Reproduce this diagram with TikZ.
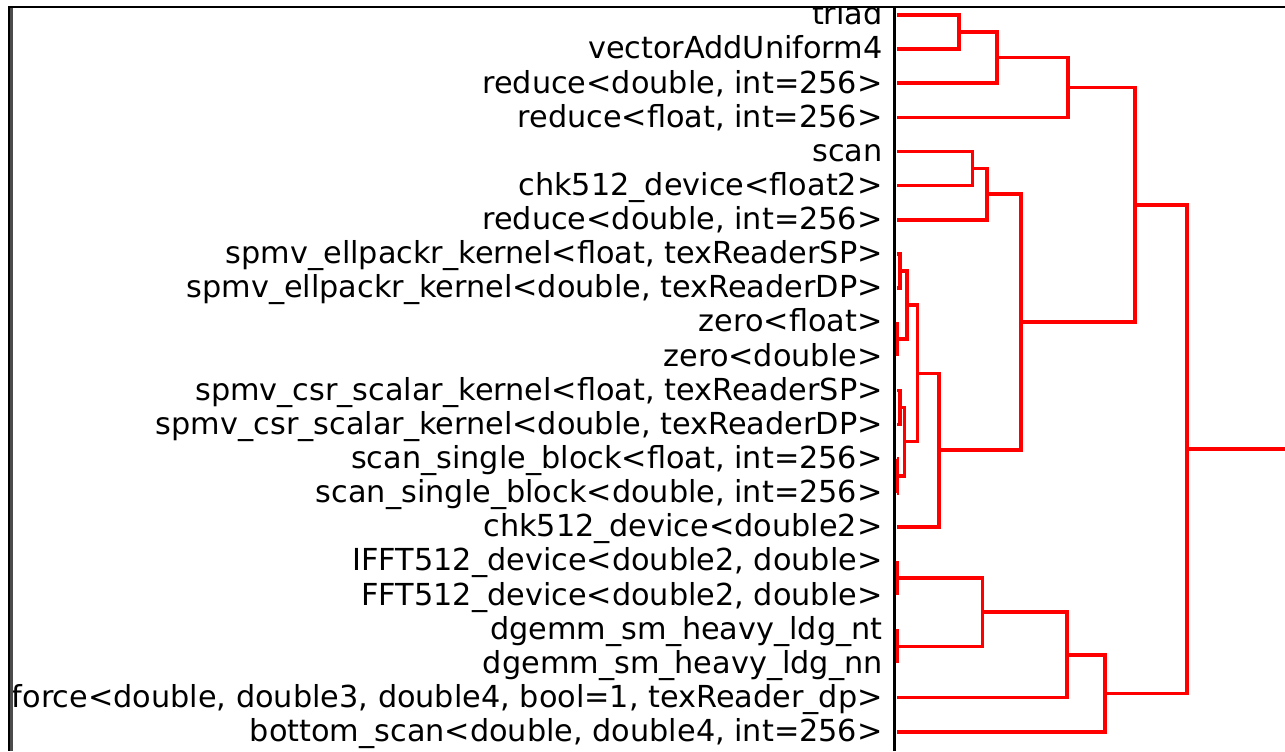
\documentclass[tikz,border=0pt]{standalone}
\usepackage{fontspec}
\setmainfont{DejaVu Sans}
\usetikzlibrary{positioning}
\begin{document}
\begin{tikzpicture}[x=0.5pt, y=-0.5pt]
        \tikzstyle{lbl} = [inner sep=0pt, text height=9.8pt, text depth=0pt, font=\fontsize{15.15}{18}\selectfont]
        \tikzstyle{link} = [red, line width=1.8pt]
        \tikzstyle{frame} = [black, line width=1pt]

        \useasboundingbox (0,0) rectangle (1285,751);
        \begin{scope}
        \clip (10,8) rectangle (1285,751);

        \coordinate (l0) at (897,15);
        \coordinate (l1) at (897,49.13);
        \coordinate (l2) at (897,83.26);
        \coordinate (l3) at (897,117.39);
        \coordinate (l4) at (897,151.52);
        \coordinate (l5) at (897,185.65);
        \coordinate (l6) at (897,219.78);
        \coordinate (l7) at (897,253.91);
        \coordinate (l8) at (897,288.04);
        \coordinate (l9) at (897,322.17);
        \coordinate (l10) at (897,356.3);
        \coordinate (l11) at (897,390.43);
        \coordinate (l12) at (897,424.56);
        \coordinate (l13) at (897,458.69);
        \coordinate (l14) at (897,492.82);
        \coordinate (l15) at (897,526.95);
        \coordinate (l16) at (897,561.08);
        \coordinate (l17) at (897,595.21);
        \coordinate (l18) at (897,629.34);
        \coordinate (l19) at (897,663.47);
        \coordinate (l20) at (897,697.6);
        \coordinate (l21) at (897,731.73);

        \node (t0) [lbl, left=7pt of l0] {triad};
        \node (t1) [lbl, left=7pt of l1] {vectorAddUniform4};
        \node (t2) [lbl, left=7pt of l2] {reduce<double, int=256>};
        \node (t3) [lbl, left=7pt of l3] {reduce<float, int=256>};
        \node (t4) [lbl, left=7pt of l4] {scan};
        \node (t5) [lbl, left=7pt of l5] {chk512\_device<float2>};
        \node (t6) [lbl, left=7pt of l6] {reduce<double, int=256>};
        \node (t7) [lbl, left=7pt of l7] {spmv\_ellpackr\_kernel<float, texReaderSP>};
        \node (t8) [lbl, left=7pt of l8] {spmv\_ellpackr\_kernel<double, texReaderDP>};
        \node (t9) [lbl, left=7pt of l9] {zero<float>};
        \node (t10) [lbl, left=7pt of l10] {zero<double>};
        \node (t11) [lbl, left=7pt of l11] {spmv\_csr\_scalar\_kernel<float, texReaderSP>};
        \node (t12) [lbl, left=7pt of l12] {spmv\_csr\_scalar\_kernel<double, texReaderDP>};
        \node (t13) [lbl, left=7pt of l13] {scan\_single\_block<float, int=256>};
        \node (t14) [lbl, left=7pt of l14] {scan\_single\_block<double, int=256>};
        \node (t15) [lbl, left=7pt of l15] {chk512\_device<double2>};
        \node (t16) [lbl, left=7pt of l16] {IFFT512\_device<double2, double>};
        \node (t17) [lbl, left=7pt of l17] {FFT512\_device<double2, double>};
        \node (t18) [lbl, left=7pt of l18] {dgemm\_sm\_heavy\_ldg\_nt};
        \node (t19) [lbl, left=7pt of l19] {dgemm\_sm\_heavy\_ldg\_nn};
        \node (t20) [lbl, left=7pt of l20] {force<double, double3, double4, bool=1, texReader\_dp>};
        \node (t21) [lbl, left=7pt of l21] {bottom\_scan<double, double4, int=256>};

        \coordinate (m1) at (959,32.07);
        \coordinate (m2) at (996.7,57.66);
        \coordinate (m3) at (1068,87.53);
        \coordinate (m4) at (972.3,168.59);
        \coordinate (m5) at (986.7,194.18);
        \coordinate (m6) at (900,270.98);
        \coordinate (m7) at (897,339.24);
        \coordinate (m8) at (906.7,305.11);
        \coordinate (m9) at (900,407.5);
        \coordinate (m10) at (897.5,475.76);
        \coordinate (m11) at (904.5,441.63);
        \coordinate (m12) at (917.3,373.37);
        \coordinate (m13) at (939,450.16);
        \coordinate (m14) at (1020.7,322.17);
        \coordinate (m15) at (1134.7,204.85);
        \coordinate (m16) at (897,578.15);
        \coordinate (m17) at (897,646.41);
        \coordinate (m18) at (982.3,612.28);
        \coordinate (m19) at (1066.7,654.94);
        \coordinate (m20) at (1105,693.34);
        \coordinate (m21) at (1187,449.1);
        \coordinate (out) at (1300,449.1);

        \draw [link] (l0) -- (l0 -| m1) -- (l1 -| m1) -- (l1);
        \draw [link] (m1) -- (m1 -| m2) -- (l2 -| m2) -- (l2);
        \draw [link] (m2) -- (m2 -| m3) -- (l3 -| m3) -- (l3);
        \draw [link] (l4) -- (l4 -| m4) -- (l5 -| m4) -- (l5);
        \draw [link] (m4) -- (m4 -| m5) -- (l6 -| m5) -- (l6);
        \draw [link] (l7) -- (l7 -| m6) -- (l8 -| m6) -- (l8);
        \draw [link] (l9) -- (l9 -| m7) -- (l10 -| m7) -- (l10);
        \draw [link] (m6) -- (m6 -| m8) -- (m7 -| m8) -- (m7);
        \draw [link] (l11) -- (l11 -| m9) -- (l12 -| m9) -- (l12);
        \draw [link] (l13) -- (l13 -| m10) -- (l14 -| m10) -- (l14);
        \draw [link] (m9) -- (m9 -| m11) -- (m10 -| m11) -- (m10);
        \draw [link] (m8) -- (m8 -| m12) -- (m11 -| m12) -- (m11);
        \draw [link] (m12) -- (m12 -| m13) -- (l15 -| m13) -- (l15);
        \draw [link] (m5) -- (m5 -| m14) -- (m13 -| m14) -- (m13);
        \draw [link] (m3) -- (m3 -| m15) -- (m14 -| m15) -- (m14);
        \draw [link] (l16) -- (l16 -| m16) -- (l17 -| m16) -- (l17);
        \draw [link] (l18) -- (l18 -| m17) -- (l19 -| m17) -- (l19);
        \draw [link] (m16) -- (m16 -| m18) -- (m17 -| m18) -- (m17);
        \draw [link] (m18) -- (m18 -| m19) -- (l20 -| m19) -- (l20);
        \draw [link] (m19) -- (m19 -| m20) -- (l21 -| m20) -- (l21);
        \draw [link] (m15) -- (m15 -| m21) -- (m20 -| m21) -- (m20);
        \draw [link] (m21) -- (out);
        \end{scope}

        \draw [frame] (9,7) -- (1285,7);
        \draw [black!70, line width=1.2pt] (11.6,8) -- (11.6,751);
        \draw [frame] (9.2,6) -- (9.2,751);
        \draw [frame, line width=1.6pt] (894.3,6) -- (894.3,751);
\end{tikzpicture}
\end{document}
